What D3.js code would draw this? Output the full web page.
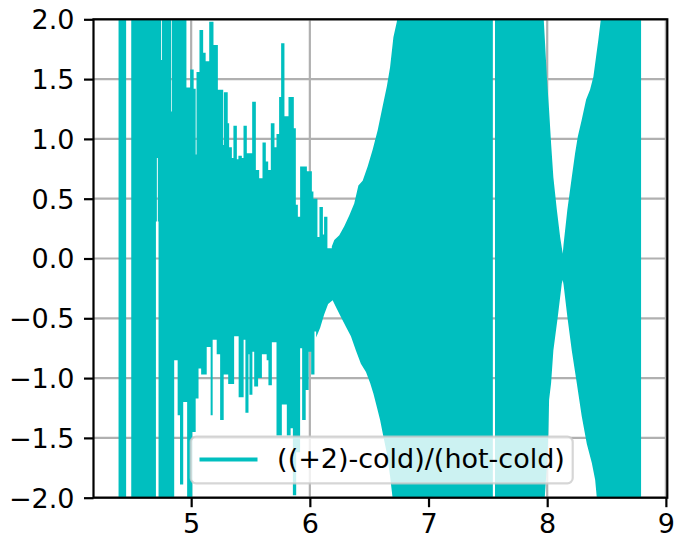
<!DOCTYPE html>
<html><head><meta charset="utf-8">
<script src="https://cdn.jsdelivr.net/npm/d3@7"></script>
<style>
body{margin:0;background:#fff}
svg{display:block}
text{font-family:"DejaVu Sans",sans-serif;fill:#000}
</style>
</head><body>
<svg id="c" width="674" height="540"></svg>
<script>
// ---------- data ----------
const xTicks = [5, 6, 7, 8, 9];
const yTicks = [-2, -1.5, -1, -0.5, 0, 0.5, 1, 1.5, 2];
const xDomain = [4.177, 9.012];
const yDomain = [-2, 2];
const seriesLabel = "((+2)-cold)/(hot-cold)";
const seriesColor = "#00bfbf";

// upper edge of the dense oscillation, irregular part: [x, y], value holds until next x
const upperSteps = [
  [4.388, 2.6], [4.452, 0], [4.495, 2.6], [4.747, 1.66], [4.754, 2.6],
  [4.832, 1.23], [4.838, 2.6], [4.960, 1.43], [4.992, 1.58], [5.021, 1.42],
  [5.038, 0.87], [5.045, 1.56], [5.070, 1.91], [5.101, 1.72], [5.122, 1.65],
  [5.152, 1.98], [5.188, 1.785], [5.225, 1.41], [5.270, 0.95], [5.276, 1.39],
  [5.308, 1.13], [5.320, 0.93], [5.343, 0.84], [5.356, 1.11], [5.385, 0.83],
  [5.398, 0.86], [5.427, 0.84], [5.441, 1.11], [5.469, 0.88], [5.514, 1.31],
  [5.545, 0.74], [5.573, 0.67], [5.601, 0.97], [5.629, 0.81], [5.649, 0.74],
  [5.671, 1.13], [5.702, 0.93], [5.719, 1.04], [5.741, 1.35], [5.758, 1.80],
  [5.786, 1.19], [5.820, 1.35], [5.865, 1.09], [5.882, 0.45], [5.899, 0.35],
  [5.918, 0.77], [5.975, 0.73], [6.017, 0.56], [6.030, 0.50], [6.064, 0.18],
  [6.081, 0.43], [6.110, 0.20], [6.120, 0.35], [6.148, 0.085]
];
// upper envelope of the regular beating part: [x, y]
const upperEnvelope = [
  [6.185, 0.10], [6.206, 0.155], [6.248, 0.195], [6.290, 0.27], [6.332, 0.36],
  [6.374, 0.46], [6.409, 0.61], [6.445, 0.65], [6.487, 0.77], [6.529, 0.91],
  [6.571, 1.07], [6.613, 1.27], [6.649, 1.44], [6.676, 1.60], [6.704, 1.85],
  [6.733, 1.98], [6.746, 2.1], [6.752, 2.6], [7.542, 2.6], [7.542, 0],
  [7.560, 0], [7.560, 2.6], [7.965, 2.6], [7.968, 2.05], [7.982, 1.80],
  [7.997, 1.52], [8.016, 1.24], [8.033, 0.96], [8.052, 0.68], [8.081, 0.41],
  [8.109, 0.18], [8.131, 0.04], [8.138, 0.12], [8.170, 0.41], [8.207, 0.68],
  [8.235, 0.88], [8.258, 1.02], [8.291, 1.16], [8.328, 1.33], [8.361, 1.41],
  [8.389, 1.52], [8.412, 1.69], [8.431, 1.83], [8.452, 2.0], [8.458, 2.6],
  [8.791, 2.6]
];
// lower edge, irregular part
const lowerSteps = [
  [4.388, -2.6], [4.452, 0], [4.495, -2.6], [4.703, 0.31], [4.711, 0.84],
  [4.719, 0.31], [4.725, -2.6], [4.857, -0.85], [4.886, -1.31], [4.906, -1.89],
  [4.933, -1.20], [4.966, -2.6], [5.010, -1.45], [5.038, -1.17], [5.062, -0.92],
  [5.084, -0.97], [5.131, -0.74], [5.164, -1.31], [5.181, -0.68], [5.215, -0.80],
  [5.244, -1.35], [5.274, -0.97], [5.312, -1.05], [5.362, -0.65], [5.400, -1.16],
  [5.442, -0.68], [5.457, -1.29], [5.483, -0.80], [5.491, -1.14], [5.516, -0.78],
  [5.531, -1.07], [5.564, -1.00], [5.596, -0.80], [5.636, -0.85], [5.651, -1.06],
  [5.680, -0.70], [5.719, -1.48], [5.764, -1.22], [5.806, -1.48], [5.838, -1.42],
  [5.857, -1.98], [5.885, -1.62], [5.918, -0.75], [5.935, -1.35], [5.965, -1.10],
  [5.990, -0.78], [6.011, -0.97], [6.039, -0.61]
];
// lower envelope of the regular part
const lowerEnvelope = [
  [6.053, -0.66], [6.087, -0.58], [6.120, -0.47], [6.154, -0.38], [6.192, -0.35],
  [6.227, -0.42], [6.262, -0.49], [6.304, -0.57], [6.346, -0.65], [6.388, -0.77],
  [6.430, -0.88], [6.473, -0.95], [6.508, -1.04], [6.536, -1.13], [6.564, -1.24],
  [6.592, -1.35], [6.620, -1.49], [6.649, -1.63], [6.676, -1.82], [6.697, -2.0],
  [6.706, -2.6], [7.542, -2.6], [7.542, 0], [7.560, 0], [7.560, -2.6],
  [7.970, -2.6], [7.976, -2.05], [7.997, -1.74], [8.010, -1.46], [8.016, -1.18],
  [8.033, -1.04], [8.052, -0.77], [8.089, -0.49], [8.123, -0.21], [8.131, -0.18],
  [8.138, -0.22], [8.170, -0.49], [8.207, -0.77], [8.249, -1.04], [8.291, -1.32],
  [8.334, -1.55], [8.376, -1.71], [8.404, -1.85], [8.418, -2.0], [8.425, -2.6],
  [8.791, -2.6]
];

// ---------- layout ----------
const M = {l: 93.5, r: 667.3, t: 19.3, b: 497.7};
const FS = 27, TICK = 9.5, PAD = 9.5, LW = 2.2;

const svg = d3.select("#c");
const x = d3.scaleLinear().domain(xDomain).range([M.l, M.r]);
const y = d3.scaleLinear().domain(yDomain).range([M.b, M.t]);

// grid (below data)
const grid = svg.append("g");
grid.selectAll(".gx").data(xTicks).join("line")
  .attr("x1", d => x(d)).attr("x2", d => x(d)).attr("y1", M.t).attr("y2", M.b)
  .attr("stroke", "#b0b0b0").attr("stroke-width", LW);
grid.selectAll(".gy").data(yTicks).join("line")
  .attr("y1", d => y(d)).attr("y2", d => y(d)).attr("x1", M.l).attr("x2", M.r)
  .attr("stroke", "#b0b0b0").attr("stroke-width", LW);

// clip
svg.append("clipPath").attr("id", "clip").append("rect")
  .attr("x", M.l).attr("y", M.t).attr("width", M.r - M.l).attr("height", M.b - M.t);

// series outline: upper edge left->right, lower edge right->left
function expand(steps, endX) {
  const pts = [];
  steps.forEach((s, i) => {
    const nx = i < steps.length - 1 ? steps[i + 1][0] : endX;
    pts.push([s[0], s[1]], [nx, s[1]]);
  });
  return pts;
}
const upper = expand(upperSteps, upperEnvelope[0][0]).concat(upperEnvelope);
const lower = expand(lowerSteps, lowerEnvelope[0][0]).concat(lowerEnvelope);
const outline = upper.concat(lower.slice().reverse());
const line = d3.line().x(d => x(d[0])).y(d => y(d[1]));
svg.append("path")
  .attr("d", line(outline) + "Z")
  .attr("fill", seriesColor)
  .attr("clip-path", "url(#clip)");

// axes
const ax = svg.append("g").attr("transform", `translate(0,${M.b})`)
  .call(d3.axisBottom(x).tickValues(xTicks).tickSize(TICK).tickPadding(6.5).tickFormat(d3.format("d")));
const ay = svg.append("g").attr("transform", `translate(${M.l},0)`)
  .call(d3.axisLeft(y).tickValues(yTicks).tickSize(TICK).tickPadding(PAD).tickFormat(d3.format(".1f")));
[ax, ay].forEach(g => {
  g.select(".domain").remove();
  g.selectAll(".tick line").attr("stroke", "#000").attr("stroke-width", LW);
  g.selectAll(".tick text").attr("font-size", FS).attr("font-family", "DejaVu Sans").attr("fill", "#000");
});
ay.selectAll(".tick text").attr("dy", "0.35em");

// spines
svg.append("rect").attr("x", M.l).attr("y", M.t)
  .attr("width", M.r - M.l).attr("height", M.b - M.t)
  .attr("fill", "none").attr("stroke", "#000").attr("stroke-width", LW);

// legend
const lg = svg.append("g");
const lx = 190.7, ly = 436.7, lh = 46.6, bp = 0.4 * FS;
const frame = lg.append("rect");
lg.append("line")
  .attr("x1", lx + bp).attr("x2", lx + bp + 2 * FS)
  .attr("y1", 459.5).attr("y2", 459.5)
  .attr("stroke", seriesColor).attr("stroke-width", 4).attr("stroke-linecap", "square");
const lt = lg.append("text")
  .attr("x", lx + bp + 2 * FS + 0.8 * FS).attr("y", 468)
  .attr("font-size", FS).text(seriesLabel);
const tw = lt.node().getComputedTextLength();
frame.attr("x", lx).attr("y", ly)
  .attr("width", bp + 2 * FS + 0.8 * FS + tw + bp - 3).attr("height", lh)
  .attr("rx", 0.2 * FS).attr("ry", 0.2 * FS)
  .attr("fill", "#fff").attr("fill-opacity", 0.8)
  .attr("stroke", "#cccccc").attr("stroke-opacity", 0.8).attr("stroke-width", LW);
</script>
</body></html>
